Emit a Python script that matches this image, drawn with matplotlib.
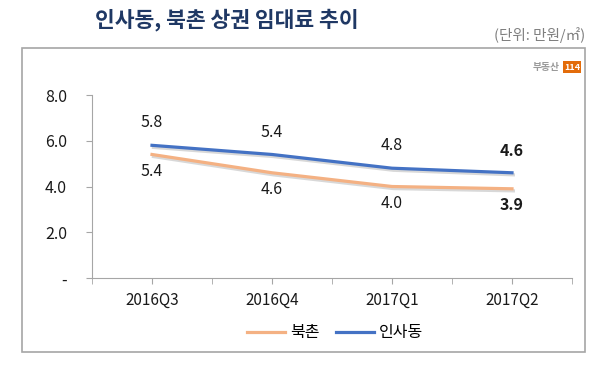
import matplotlib
matplotlib.use("Agg")
import matplotlib.pyplot as plt
import matplotlib.patheffects as pe
from matplotlib.patches import Rectangle
from matplotlib.lines import Line2D

plt.rcParams['font.family'] = ['Noto Sans CJK KR', 'DejaVu Sans']

# ── data ──────────────────────────────────────────────────────────────────────
quarters  = ["2016Q3", "2016Q4", "2017Q1", "2017Q2"]
insadong  = [5.8, 5.4, 4.8, 4.6]
bukchon   = [5.4, 4.6, 4.0, 3.9]
y_ticks   = [0, 2, 4, 6, 8]
y_labels  = ["-", "2.0", "4.0", "6.0", "8.0"]

BLUE   = "#4472C4"
ORANGE = "#F4B183"
TEXT   = "#1a1a1a"

fig = plt.figure(figsize=(6, 3.65), dpi=100)

# outer frame
fig.patches.append(Rectangle((22/600, 1-352/365), 563/600, 304/365,
                             transform=fig.transFigure, fill=False,
                             edgecolor="#a6a6a6", linewidth=1.2))

ax = fig.add_axes([92/600, 1-278/365, 480/600, 183/365])
x = list(range(len(quarters)))
shadow = [pe.SimpleLineShadow(offset=(1, -1.5), shadow_color="gray", alpha=0.3), pe.Normal()]
ax.plot(x, bukchon, color=ORANGE, linewidth=2.3, path_effects=shadow)
ax.plot(x, insadong, color=BLUE, linewidth=2.3, path_effects=shadow)

for i, (a, b) in enumerate(zip(insadong, bukchon)):
    bold = "bold" if i == len(quarters) - 1 else "normal"
    ax.annotate(f"{a:.1f}", (i, a), xytext=(0, 10), textcoords="offset points",
                ha="center", va="bottom", fontsize=11.5, color=TEXT, fontweight=bold)
    ax.annotate(f"{b:.1f}", (i, b), xytext=(0, -6), textcoords="offset points",
                ha="center", va="top", fontsize=11.5, color=TEXT, fontweight=bold)

ax.set_xlim(-0.5, 3.5)
ax.set_ylim(0, 8)
ax.set_xticks(x)
ax.set_xticklabels(quarters, fontsize=11, color=TEXT)
ax.set_xticks([-0.5, 0.5, 1.5, 2.5, 3.5], minor=True)
ax.set_yticks(y_ticks)
ax.set_yticklabels(y_labels, fontsize=11.5, color=TEXT)
ax.tick_params(axis="both", which="both", color="#a6a6a6", length=4)
ax.tick_params(axis="x", which="major", pad=6)
ax.tick_params(axis="y", pad=14)
for s in ["top", "right"]:
    ax.spines[s].set_visible(False)
for s in ["left", "bottom"]:
    ax.spines[s].set_color("#a6a6a6")

handles = [Line2D([], [], color=ORANGE, linewidth=2.3),
           Line2D([], [], color=BLUE, linewidth=2.3)]
fig.legend(handles, ["북촌", "인사동"], loc="center",
           bbox_to_anchor=(335/600, 1-333/365), ncol=2,
           frameon=False, fontsize=11.5, handlelength=2.4, columnspacing=1.0,
           handletextpad=0.3)

fig.text(95/600, 1-20/365, "인사동, 북촌 상권 임대료 추이", fontsize=15.5,
         fontweight="bold", color="#1F3864", va="center", ha="left")
fig.text(585/600, 1-35/365, "(단위: 만원/㎡)", fontsize=10.5, color="#7f7f7f",
         va="center", ha="right")
fig.text(560/600, 1-67/365, "부동산", fontsize=7, color="#9a9a9a",
         fontweight="bold", va="center", ha="right")
fig.text(572/600, 1-67/365, "114", fontsize=6.5, color="white", fontweight="bold",
         va="center", ha="center",
         bbox=dict(boxstyle="square,pad=0.15", facecolor="#E36C0A", edgecolor="none"))

fig.savefig("out.png", dpi=100)
